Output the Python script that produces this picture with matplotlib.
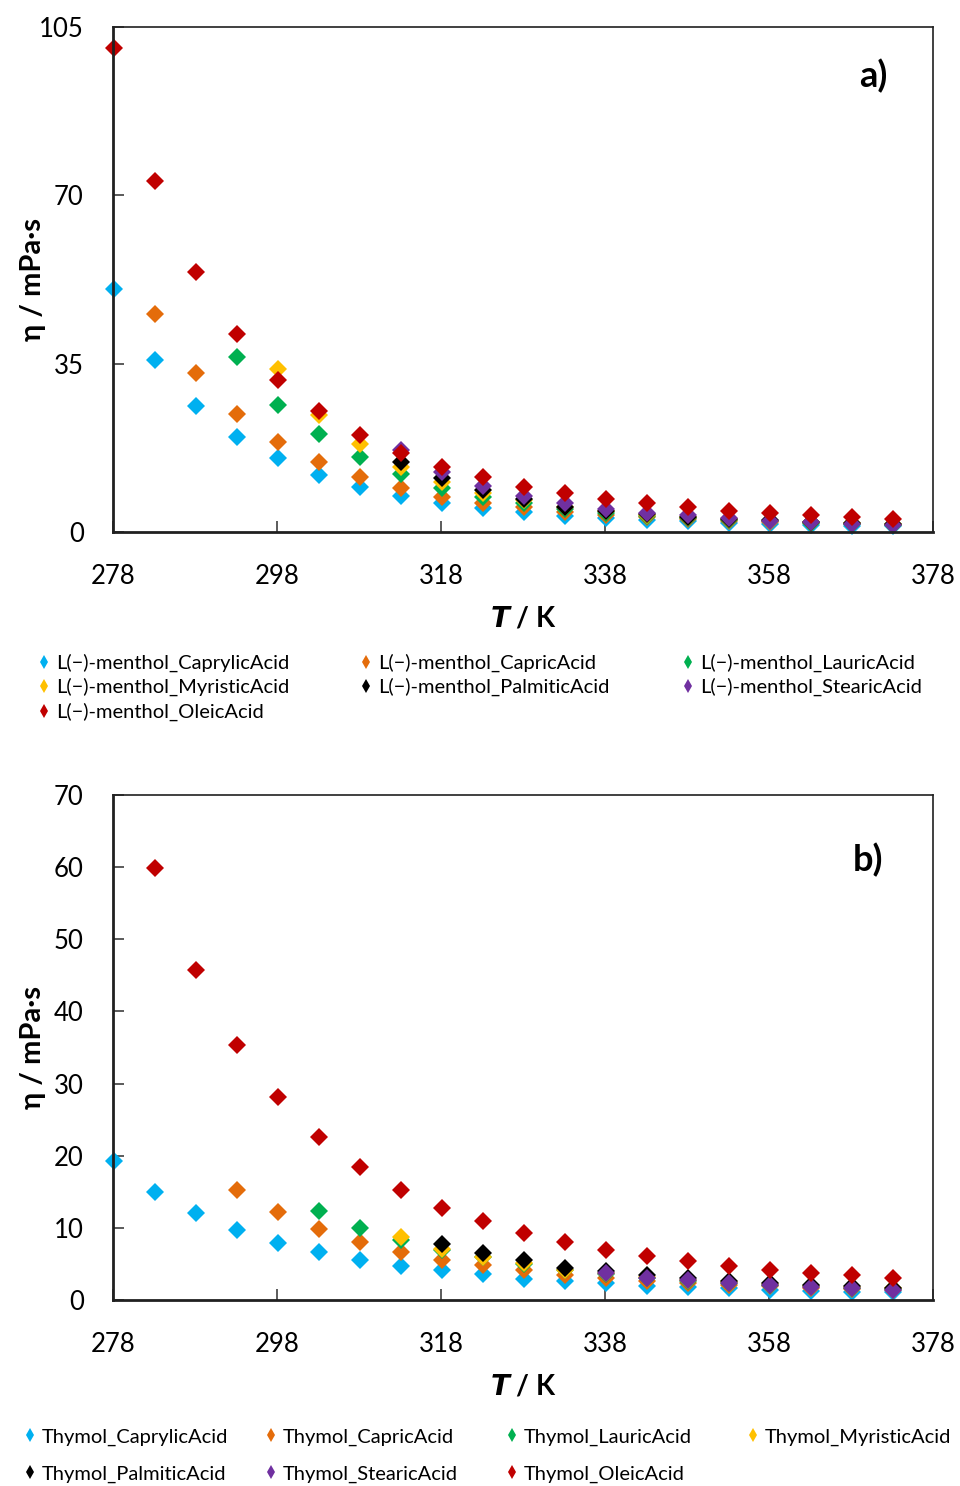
import numpy as np
import matplotlib
matplotlib.use("Agg")
import matplotlib.pyplot as plt
from matplotlib.lines import Line2D

plt.rcParams['font.family'] = ['Lato', 'DejaVu Sans']

T = [278.15 + 5 * k for k in range(20)]
nan = np.nan

acids = ["CaprylicAcid", "CapricAcid", "LauricAcid", "MyristicAcid",
         "PalmiticAcid", "StearicAcid", "OleicAcid"]
colors = ["#00B0F0", "#E46C0A", "#00B050", "#FFC000", "#000000", "#7030A0", "#C00000"]

# Panel a: L(-)-menthol based DES
men_caprylic = [50.6, 35.8, 26.2, 19.8, 15.3, 11.8, 9.3, 7.4, 6.0, 4.9, 4.1, 3.4, 2.9, 2.5, 2.2, 1.9, 1.7, 1.5, 1.35, 1.2]
men_capric = [nan, 45.3, 33.1, 24.5, 18.7, 14.6, 11.5, 9.2, 7.3, 6.1, 5.1, 4.2, 3.6, 3.1, 2.7, 2.3, 2.0, 1.8, 1.6, 1.45]
men_lauric = [nan, nan, nan, 36.3, 26.5, 20.4, 15.5, 12.0, 9.1, 7.2, 6.0, 4.8, 4.0, 3.4, 2.9, 2.5, 2.2, 1.9, 1.7, 1.5]
men_myristic = [nan, nan, nan, nan, 33.9, 24.3, 18.4, 13.6, 10.5, 8.2, 6.6, 5.2, 4.3, 3.6, 3.1, 2.6, 2.3, 2.0, 1.8, 1.6]
men_palmitic = [nan] * 7 + [14.6, 11.2, 8.7, 6.8, 5.3, 4.4, 3.7, 3.2, 2.7, 2.4, 2.1, 1.8, 1.6]
men_stearic = [nan] * 7 + [17.0, 12.5, 9.6, 7.5, 6.0, 4.8, 4.0, 3.5, 2.9, 2.3, 2.0, 1.7, 1.5]
men_oleic = [100.6, 73.0, 54.1, 41.1, 31.7, 25.2, 20.2, 16.5, 13.6, 11.4, 9.4, 8.2, 6.8, 6.0, 5.2, 4.4, 3.9, 3.5, 3.1, 2.8]

# Panel b: Thymol based DES
thy_caprylic = [19.2, 15.0, 12.0, 9.7, 7.9, 6.7, 5.5, 4.7, 4.1, 3.6, 2.9, 2.6, 2.3, 2.0, 1.8, 1.6, 1.4, 1.3, 1.15, 1.05]
thy_capric = [nan] * 3 + [15.2, 12.2, 9.8, 8.0, 6.7, 5.5, 4.9, 4.2, 3.5, 3.1, 2.7, 2.4, 2.1, 1.9, 1.7, 1.5, 1.4]
thy_lauric = [nan] * 5 + [12.3, 10.0, 8.3, 7.0, 5.9, 5.0, 4.2, 3.6, 3.1, 2.7, 2.4, 2.1, 1.9, 1.7, 1.5]
thy_myristic = [nan] * 7 + [8.8, 7.1, 5.9, 5.1, 4.2, 3.7, 3.2, 2.8, 2.5, 2.2, 2.0, 1.8, 1.6]
thy_palmitic = [nan] * 8 + [7.7, 6.5, 5.5, 4.4, 4.0, 3.4, 3.1, 2.7, 2.4, 2.1, 1.9, 1.7]
thy_stearic = [nan] * 12 + [3.7, 3.1, 2.8, 2.4, 2.1, 1.8, 1.6, 1.4]
thy_oleic = [nan, 59.9, 45.7, 35.3, 28.1, 22.6, 18.4, 15.3, 12.8, 11.0, 9.3, 8.0, 7.0, 6.1, 5.4, 4.7, 4.2, 3.8, 3.5, 3.0]

men_series = [men_caprylic, men_capric, men_lauric, men_myristic, men_palmitic, men_stearic, men_oleic]
thy_series = [thy_caprylic, thy_capric, thy_lauric, thy_myristic, thy_palmitic, thy_stearic, thy_oleic]

fig = plt.figure(figsize=(9.6, 14.86), dpi=100)
W, H = 960, 1486

def add_ax(top_px, bottom_px):
    return fig.add_axes([113 / W, (H - bottom_px) / H, 820 / W, (bottom_px - top_px) / H])

ax_a = add_ax(27, 532)
ax_b = add_ax(795, 1300)

MS = 8.8

def style(ax, ymax, yticks, label, lx, ly):
    ax.set_xlim(278, 378)
    ax.set_ylim(0, ymax)
    ax.set_xticks([278, 298, 318, 338, 358, 378])
    ax.set_yticks(yticks)
    ax.tick_params(direction='in', length=8, width=1.2, labelsize=18.5, colors='#404040', labelcolor='black')
    ax.tick_params(axis='x', pad=23)
    ax.tick_params(axis='y', pad=21)
    for s in ax.spines.values():
        s.set_linewidth(1.2)
        s.set_color('#202020')
    ax.spines['left'].set_linewidth(2)
    ax.spines['bottom'].set_linewidth(2)
    ax.set_xlabel(r"$\boldsymbol{T}$ / K", fontsize=20, fontweight='bold')
    ax.set_ylabel("η / mPa·s", fontsize=21, fontweight='bold')
    ax.xaxis.set_label_coords(0.5, -0.146)
    ax.yaxis.set_label_coords(-0.082, 0.5)
    ax.text(lx, ly, label, transform=ax.transAxes, fontsize=26, fontweight='bold', ha='center', va='center')

for col, ys in zip(colors, men_series):
    ax_a.plot(T, ys, linestyle='none', marker='D', markersize=MS, color=col, markeredgewidth=0, clip_on=False)
for col, ys in zip(colors, thy_series):
    ax_b.plot(T, ys, linestyle='none', marker='D', markersize=MS, color=col, markeredgewidth=0, clip_on=False)

style(ax_a, 105, [0, 35, 70, 105], "a)", 0.927, 0.903)
style(ax_b, 70, [0, 10, 20, 30, 40, 50, 60, 70], "b)", 0.921, 0.871)

def entry(label, col, x_px, y_px):
    h = Line2D([], [], linestyle='none', marker='d', markersize=7.5, color=col, markeredgewidth=0)
    fig.legend([h], [label], loc='center left', bbox_to_anchor=((x_px - 8) / W, 1 - y_px / H),
               frameon=False, fontsize=14.5, handlelength=0.8, handletextpad=0.2,
               borderaxespad=0, borderpad=0)

# Legend a: 3 columns, row-major
cols_a = [44, 366, 688]
rows_a = [663, 687, 712]
for i, (name, col) in enumerate(zip(acids, colors)):
    entry("L(−)-menthol_" + name, col, cols_a[i % 3], rows_a[i // 3])

# Legend b: 4 columns, row-major
cols_b = [30, 271, 512, 753]
rows_b = [1437, 1474]
for i, (name, col) in enumerate(zip(acids, colors)):
    entry("Thymol_" + name, col, cols_b[i % 4], rows_b[i // 4])

fig.savefig("out.png", dpi=100)
